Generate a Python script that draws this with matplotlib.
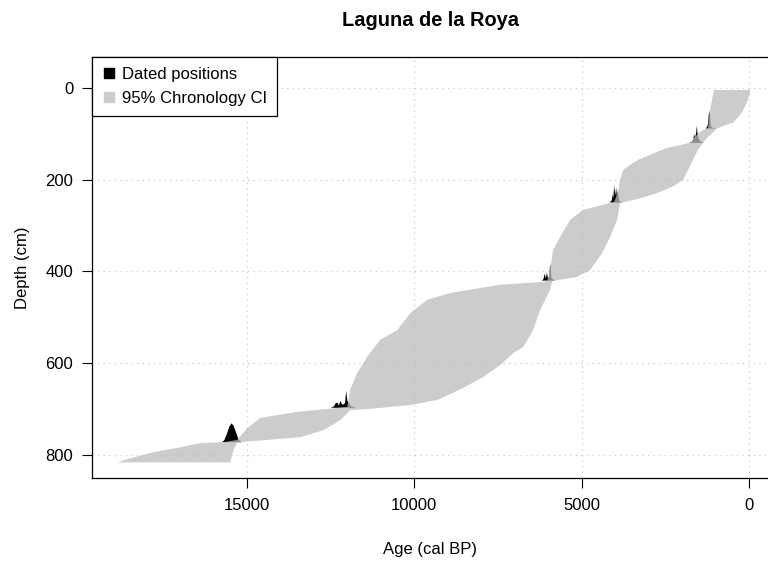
import matplotlib
matplotlib.use("Agg")
import matplotlib.pyplot as plt
from matplotlib.lines import Line2D

plt.rcParams["font.family"] = ["Liberation Sans", "DejaVu Sans"]

# 95% chronology envelope: younger (right) and older (left) edges, top to bottom
young_age = [-30, -30, 69, 218, 478, 776, 955, 1254, 1373, 1523, 1672, 1822, 1971,
             2299, 2807, 3315, 3852, 3942, 4150, 4389, 4748, 5136, 5883, 5942, 6241,
             6450, 6749, 7048, 7435, 7943, 8540, 9316, 10123, 11407, 11915, 12213,
             12721, 13408, 14393, 15289, 15407, 15497]
young_depth = [5, 11, 33, 55, 76, 83, 89, 109, 120, 135, 157, 179, 201,
               216, 231, 242, 251, 288, 325, 360, 397, 412, 421, 440, 484,
               528, 565, 578, 604, 630, 654, 680, 691, 700, 702, 724,
               746, 761, 767, 772, 789, 816]

old_age = [1045, 1165, 1224, 1463, 1612, 1762, 2448, 2956, 3315, 3554, 3762, 3852,
           3912, 4031, 4150, 4957, 5345, 5644, 5853, 5942, 6032, 6152, 7435, 8928,
           9615, 10123, 10511, 11019, 11407, 11705, 11915, 12004, 12362, 13497,
           14602, 14990, 15289, 15706, 16393, 16991, 17797, 18484, 18872]
old_depth = [5, 48, 87, 96, 107, 120, 131, 146, 157, 168, 179, 201,
             227, 249, 251, 266, 288, 325, 353, 397, 421, 423, 429, 447,
             462, 491, 528, 549, 586, 621, 658, 695, 698, 706,
             719, 741, 767, 772, 774, 783, 794, 807, 816]

# calibrated age densities of the dated levels (height in cm above the level)
date_depth = [89, 120, 250, 420, 697, 772]
date_ages = [
    [1000, 1100, 1140, 1160, 1175, 1190, 1205, 1225, 1250, 1300],
    [1350, 1450, 1500, 1530, 1560, 1580, 1610, 1640, 1660, 1700, 1780],
    [3800, 3880, 3920, 3945, 3970, 3995, 4030, 4055, 4080, 4100, 4160],
    [5800, 5900, 5940, 5970, 6010, 6040, 6070, 6110, 6140, 6200],
    [11750, 11900, 12000, 12035, 12070, 12150, 12210, 12250, 12300, 12350, 12400, 12500],
    [15150, 15250, 15320, 15400, 15460, 15520, 15600, 15680, 15750],
]
date_dens = [
    [0, 2, 5, 20, 32, 39, 28, 10, 4, 0],
    [0, 3, 8, 14, 37, 22, 10, 20, 8, 3, 0],
    [0, 4, 26, 12, 33, 15, 37, 10, 17, 5, 0],
    [0, 5, 37, 8, 6, 18, 5, 15, 3, 0],
    [0, 4, 15, 37, 10, 6, 15, 5, 11, 10, 3, 0],
    [0, 5, 20, 36, 41, 35, 18, 4, 0],
]

x_ticks = [15000, 10000, 5000, 0]
y_ticks = [0, 200, 400, 600, 800]

fig = plt.figure(figsize=(7.68, 5.63), dpi=100)
ax = fig.add_axes([92 / 768, 1 - 478 / 563, (768 - 92) / 768, (478 - 57) / 563])

for depth, ages, dens in zip(date_depth, date_ages, date_dens):
    ax.fill(ages, [depth - h for h in dens], color="black", lw=0, zorder=2)

band_x = young_age + old_age[::-1]
band_y = young_depth + old_depth[::-1]
ax.fill(band_x, band_y, color="#bbbbbb", alpha=0.75, lw=0, zorder=3)

ax.set_xlim(19630, -567)
ax.set_ylim(850, -67)
ax.set_xticks(x_ticks)
ax.set_yticks(y_ticks)
ax.grid(True, linestyle=(0, (1, 3)), color="lightgray", linewidth=1)
ax.set_axisbelow(True)
ax.tick_params(labelsize=12, length=7.5, width=0.8, direction="out")
ax.tick_params(axis="x", pad=7)
ax.tick_params(axis="y", pad=6)
for side in ["left", "top", "bottom"]:
    ax.spines[side].set_linewidth(0.9)
ax.spines["right"].set_visible(False)

ax.set_xlabel("Age (cal BP)", fontsize=12, labelpad=21)
ax.set_ylabel("Depth (cm)", fontsize=12, labelpad=11)
ax.set_title("Laguna de la Roya", fontsize=14.4, fontweight="bold", pad=22)

handles = [
    Line2D([], [], marker="s", color="black", linestyle="none", markersize=7),
    Line2D([], [], marker="s", color="#cccccc", linestyle="none", markersize=7),
]
leg = ax.legend(handles, ["Dated positions", "95% Chronology CI"], loc="upper left",
                bbox_to_anchor=(0, 1), borderaxespad=0, fontsize=12, fancybox=False,
                framealpha=1, edgecolor="black", handlelength=0.8, handletextpad=0.4,
                borderpad=0.6, labelspacing=0.55)
leg.get_frame().set_linewidth(0.9)

fig.savefig("out.png", dpi=100)
